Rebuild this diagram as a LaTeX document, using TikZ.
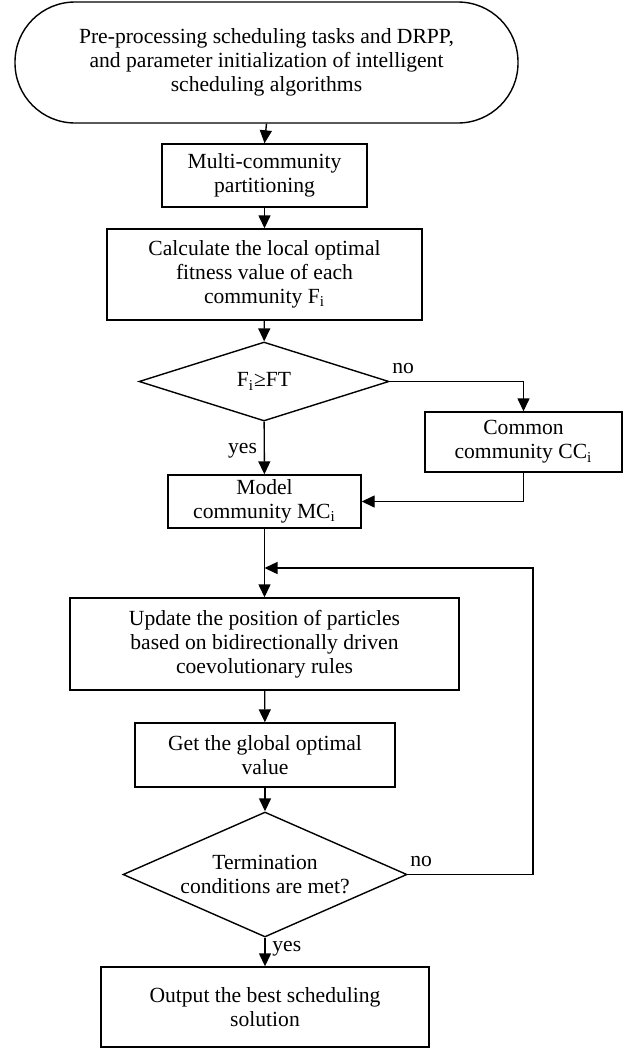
\documentclass[tikz,border=0pt]{standalone}
\usepackage{fontspec}
\setmainfont{Liberation Serif}
\usepackage{tikz}
\usetikzlibrary{positioning,shapes,arrows.meta}

\begin{document}
\begin{tikzpicture}[x=0.5pt,y=-0.5pt,
  font=\fontsize{10.8}{12}\selectfont,
  box/.style={draw,line width=0.7pt,rectangle,align=center,inner sep=0pt},
  term/.style={box,rounded corners=30pt},
  decide/.style={draw,line width=0.7pt,diamond,align=center,inner sep=-1pt},
  line/.style={line width=0.7pt,-{Triangle[width=6pt,length=6.5pt]}}]
\useasboundingbox (0,0) rectangle (631,1049);
% boxes of the main column
\node[term,minimum width=251.5pt,minimum height=60.5pt] (start) at (266.5,62.5)
  {Pre-processing scheduling tasks and DRPP,\\and parameter initialization of intelligent\\scheduling algorithms};
\node[box,minimum width=102.5pt,minimum height=31.5pt] (part) at (264.5,175.5)
  {Multi-community\\partitioning};
\node[box,minimum width=157.5pt,minimum height=45.5pt] (local) at (264.5,274.5)
  {Calculate the local optimal\\fitness value of each\\community F\textsubscript{i}};
\node[decide,aspect=3.16,minimum width=125pt,minimum height=39.5pt] (check) at (264,381.5)
  {F\textsubscript{i}≥FT};
\node[box,minimum width=98.5pt,minimum height=30pt] (common) at (523.5,442)
  {Common\\community CC\textsubscript{i}};
\node[box,minimum width=96.5pt,minimum height=26.5pt] (model) at (264.5,501.5)
  {Model\\community MC\textsubscript{i}};
\node[box,minimum width=194.5pt,minimum height=46pt] (update) at (264.5,644)
  {Update the position of particles\\based on bidirectionally driven\\coevolutionary rules};
\node[box,minimum width=130pt,minimum height=32pt] (global) at (265,755)
  {Get the global optimal\\value};
\node[decide,aspect=2.27,minimum width=142pt,minimum height=62.5pt] (stop) at (265,874.5)
  {Termination\\conditions are met?};
\node[box,minimum width=164pt,minimum height=40pt] (output) at (265,1007)
  {Output the best scheduling\\solution};
\coordinate (join) at (264.5,568);
\coordinate (back) at (533,568);
% connectors
\draw[line] (start.south) -- (part.north);
\draw[line] (part) -- (local);
\draw[line] (local) -- (check);
\draw[line] (check) -- node[pos=0.55,left]{yes} (model);
\draw[line] (check.east) -| node[pos=0,above right,inner xsep=1pt]{no} (common.north);
\draw[line] (common.south) |- (model.east);
\draw[line] (model) -- (update);
\draw[line] (stop.east) -| node[pos=0,above right,inner xsep=1pt]{no} (back) -- (join);
\draw[line] (update) -- (global);
\draw[line] (global) -- (stop);
\draw[line] (stop) -- node[pos=0.4,right]{yes} (output);
\end{tikzpicture}
\end{document}
